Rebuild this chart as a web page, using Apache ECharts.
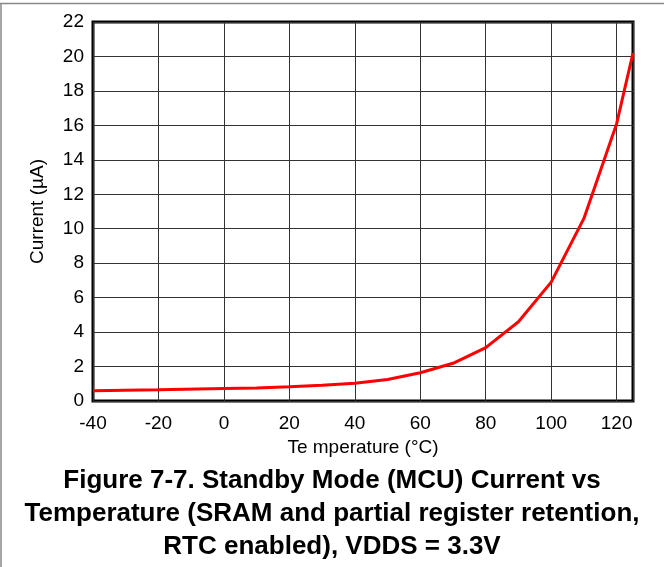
<!DOCTYPE html>
<html>
<head>
<meta charset="utf-8">
<script src="https://cdn.jsdelivr.net/npm/echarts@6/dist/echarts.min.js"></script>
<style>
    html, body {margin: 0; padding: 0; background: #fff;}
    #main {width: 664px; height: 567px;}
</style>
</head>
<body>
<div id="main"></div>
<script>
// temperature (°C) and standby current (µA)
const temps = [-40, -20, 0, 10, 20, 30, 40, 50, 60, 70, 80, 90, 100, 110, 120, 125];
const current = [0.6, 0.65, 0.73, 0.76, 0.83, 0.92, 1.03, 1.25, 1.64, 2.19, 3.1, 4.6, 6.9, 10.6, 16.1, 20.2];
const titleLines = [
    'Figure 7-7. Standby Mode (MCU) Current vs',
    'Temperature (SRAM and partial register retention,',
    'RTC enabled), VDDS = 3.3V'
];

const chart = echarts.init(document.getElementById('main'));
const font = '"Liberation Sans", Arial, sans-serif';

const option = {
    animation: false,
    grid: {
        left: 93, top: 22, right: 31, bottom: 166,
        show: true, borderColor: '#000', borderWidth: 3
    },
    xAxis: {
        type: 'value', min: -40, max: 125, interval: 20,
        name: 'Te mperature (°C)', nameLocation: 'middle', nameGap: 33,
        nameTextStyle: {fontFamily: font, fontSize: 19, color: '#000'},
        axisLine: {show: false},
        axisTick: {show: false},
        axisLabel: {fontFamily: font, fontSize: 19, color: '#000', margin: 13, showMaxLabel: false},
        splitLine: {show: true, lineStyle: {color: '#333', width: 1}}
    },
    yAxis: {
        type: 'value', min: 0, max: 22, interval: 2,
        name: 'Current (µA)', nameLocation: 'middle', nameGap: 46,
        nameTextStyle: {fontFamily: font, fontSize: 19, color: '#000'},
        axisLine: {show: false},
        axisTick: {show: false},
        axisLabel: {fontFamily: font, fontSize: 19, color: '#000', margin: 9},
        splitLine: {show: true, lineStyle: {color: '#333', width: 1}}
    },
    series: [{
        type: 'line',
        data: temps.map((t, i) => [t, current[i]]),
        showSymbol: false,
        lineStyle: {color: '#ff0000', width: 3},
        z: 5
    }],
    graphic: [
        {type: 'line', shape: {x1: 0, y1: 3.5, x2: 664, y2: 3.5}, style: {stroke: '#888', lineWidth: 1.5}},
        {type: 'line', shape: {x1: 1, y1: 3.5, x2: 1, y2: 567}, style: {stroke: '#888', lineWidth: 1.5}},
        {
            type: 'text', left: 'center', top: 464,
            style: {
                text: titleLines.join('\n'),
                font: 'bold 26px ' + font,
                fill: '#000', textAlign: 'center', lineHeight: 33
            }
        }
    ]
};

chart.setOption(option);
</script>
</body>
</html>
